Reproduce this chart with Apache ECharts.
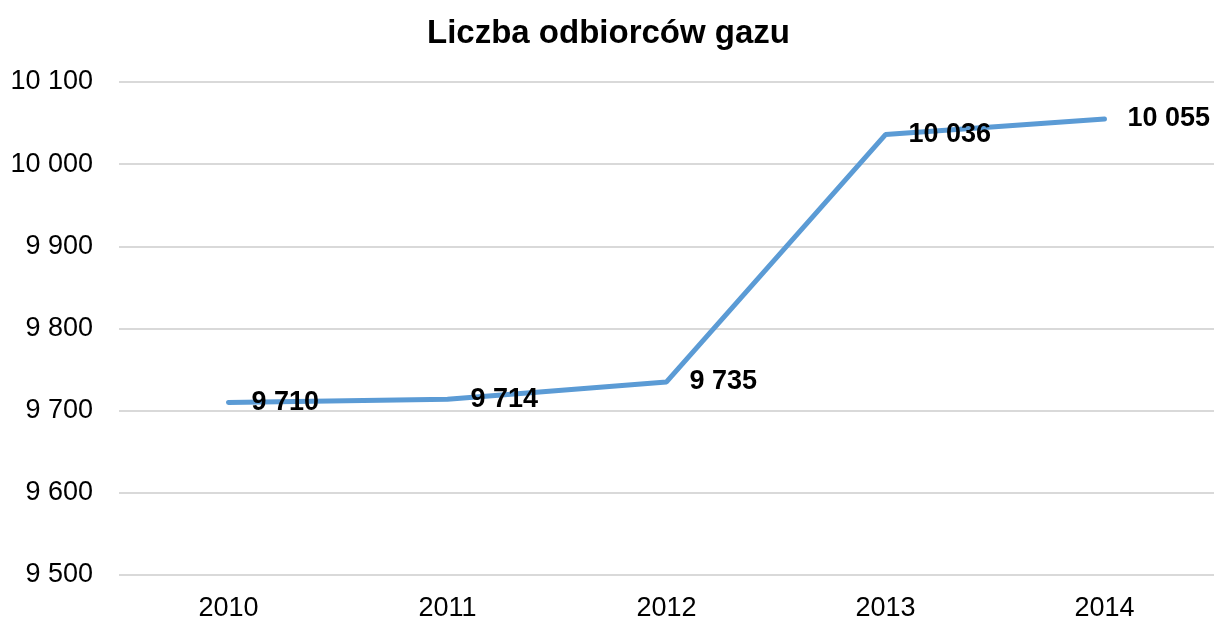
<!DOCTYPE html>
<html>
<head>
    <meta charset="UTF-8">
    <title>Liczba odbiorców gazu</title>
</head>
<body style="margin:0">
    <div id="main" style="width: 1217px;height:622px;"></div>
    <script src="https://cdn.jsdelivr.net/npm/echarts@6/dist/echarts.min.js"></script>
    <script type="text/javascript">
        // dane
        var years = ['2010', '2011', '2012', '2013', '2014'];
        var odbiorcy = [9710, 9714, 9735, 10036, 10055];

        // 10055 -> "10 055"
        function spacja(v) {
            return String(v).replace(/\B(?=(\d{3})+(?!\d))/g, ' ');
        }

        var myChart = echarts.init(document.getElementById('main'));

        var option = {
            animation: false,
            title: {
                text: 'Liczba odbiorców gazu',
                left: 'center',
                top: 12,
                textStyle: {
                    fontFamily: 'Liberation Sans',
                    fontSize: 33,
                    fontWeight: 'bold',
                    color: '#000'
                }
            },
            grid: {
                left: 119,
                right: 3,
                top: 82,
                bottom: 46
            },
            xAxis: {
                type: 'category',
                data: years,
                axisLine: { show: false },
                axisTick: { show: false },
                axisLabel: {
                    fontFamily: 'Liberation Sans',
                    fontSize: 27,
                    color: '#000',
                    margin: 20
                }
            },
            yAxis: {
                type: 'value',
                min: 9500,
                max: 10100,
                interval: 100,
                axisLabel: {
                    fontFamily: 'Liberation Sans',
                    fontSize: 27,
                    color: '#000',
                    margin: 26,
                    formatter: spacja
                },
                splitLine: { lineStyle: { color: '#d9d9d9', width: 2 } }
            },
            series: [{
                type: 'line',
                data: odbiorcy,
                symbol: 'circle',
                symbolSize: 0,
                showSymbol: true,
                lineStyle: { color: '#5b9bd5', width: 5, cap: 'round' },
                itemStyle: { color: '#5b9bd5' },
                label: {
                    show: true,
                    position: 'right',
                    distance: 23,
                    fontFamily: 'Liberation Sans',
                    fontSize: 27,
                    fontWeight: 'bold',
                    color: '#000',
                    formatter: function (p) { return spacja(p.value); }
                }
            }]
        };

        myChart.setOption(option);
    </script>
</body>
</html>
